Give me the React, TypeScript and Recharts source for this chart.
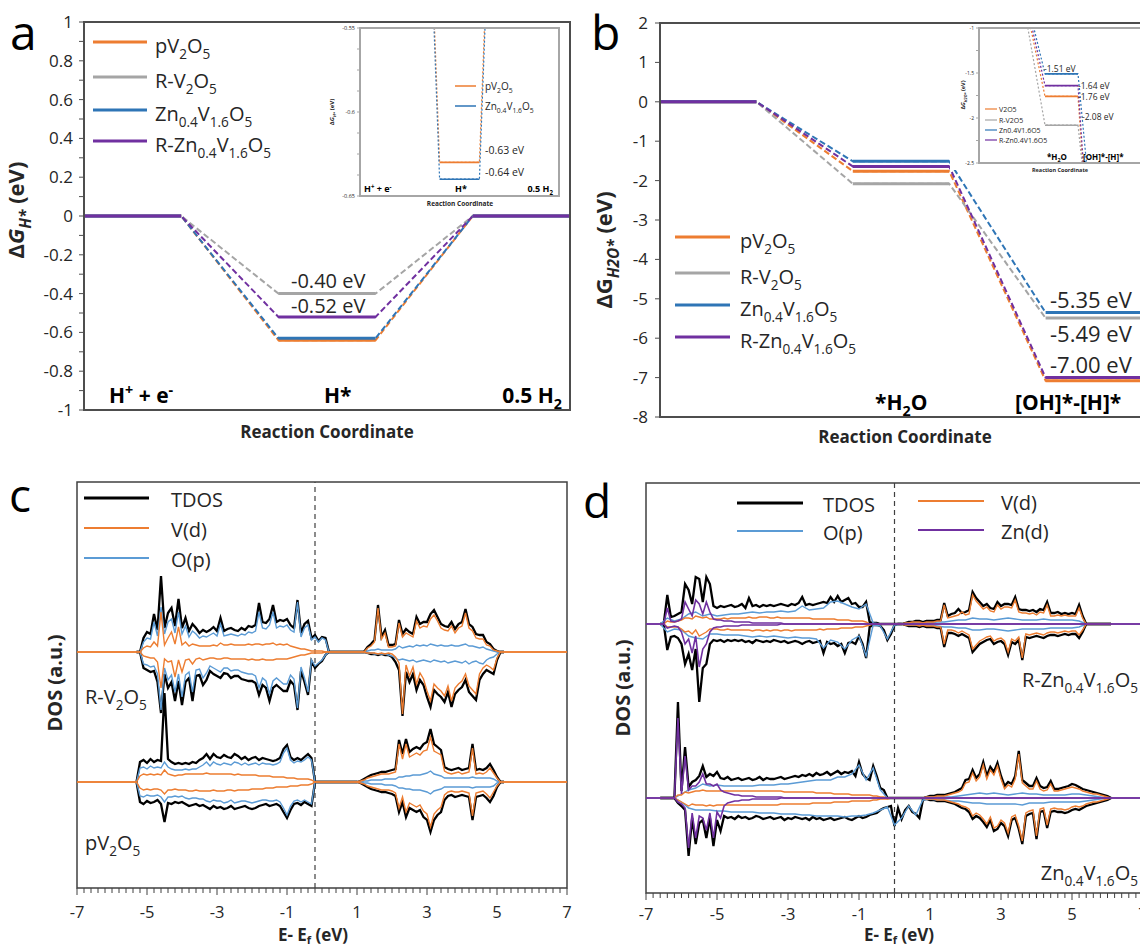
import React from 'react';
import { LineChart, Line, XAxis, YAxis, ReferenceArea, ReferenceLine } from 'recharts';

const FONT = '"Open Sans", "Noto Sans", Arial, sans-serif';
const INK = '#262626';
const FRAME = '#4D4D4D';
const ORANGE = '#ED7D31';
const GRAY = '#A5A5A5';
const BLUE = '#2E75B6';
const PURPLE = '#7030A0';
const LIGHT_BLUE = '#5B9BD5';

// ---------- panel a: hydrogen adsorption free energy ----------
const materials = ['pV2O5', 'R-V2O5', 'Zn0.4V1.6O5', 'R-Zn0.4V1.6O5'];
const materialColors = [ORANGE, GRAY, BLUE, PURPLE];
const stagesH = ['H+ + e-', 'H*', '0.5 H2'];
const dGH_pV2O5 = [0, -0.64, 0];
const dGH_RV2O5 = [0, -0.4, 0];
const dGH_Zn = [0, -0.63, 0];
const dGH_RZn = [0, -0.52, 0];
// values as printed in the zoomed inset
const insetH_pV2O5 = [0, -0.63, 0];
const insetH_Zn = [0, -0.64, 0];

// ---------- panel b: water dissociation free energy ----------
const stagesW = ['', '*H2O', '[OH]*-[H]*'];
const dGW_pV2O5 = [0, -1.76, -7.08];
const dGW_RV2O5 = [0, -2.08, -5.49];
const dGW_Zn = [0, -1.51, -5.35];
const dGW_RZn = [0, -1.64, -7.0];
const insetWNames = ['V2O5', 'R-V2O5', 'Zn0.4V1.6O5', 'R-Zn0.4V1.6O5'];

// ---------- panels c, d: density of states ----------
const energyLabels = [-7, -5, -3, -1, 1, 3, 5, 7];
const dosNames = ['TDOS', 'V(d)', 'O(p)', 'Zn(d)'];

// panel c: 0.1 eV samples starting at -5.3 eV
const cStart = -5.3;
const rvTdosUp = [
  0, 0, 14, 20, 18, 38, 22, 76, 24, 39,
  44, 26, 53, 24, 34, 21, 28, 24, 19, 22,
  20, 22, 25, 21, 34, 21, 23, 24, 22, 21,
  24, 22, 26, 25, 27, 49, 30, 29, 33, 47,
  30, 32, 31, 33, 27, 24, 52, 19, 28, 31,
  14, 17, 11, 15, 14, 0, 0, 0, 0, 0,
  0, 0, 0, 0, 0, 0, 5, 8, 12, 47,
  15, 22, 7, 7, 8, 32, 18, 23, 20, 18,
  35, 28, 30, 30, 38, 42, 35, 28, 26, 25,
  30, 23, 28, 30, 43, 28, 25, 18, 17, 17,
  10, 8, 3, 1, 0, 0,
];
const rvTdosDn = [
  0, 0, -16, -18, -20, -19, -30, -61, -22, -36,
  -30, -49, -29, -53, -30, -26, -49, -24, -23, -33,
  -28, -19, -22, -24, -26, -21, -22, -26, -24, -24,
  -27, -28, -29, -29, -31, -43, -33, -36, -49, -36,
  -33, -36, -39, -39, -29, -33, -58, -19, -30, -43,
  -9, -16, -12, -9, -3, 0, 0, 0, 0, 0,
  0, 0, 0, 0, 0, 0, -1, -2, -2, -3,
  -2, -3, -3, -5, -10, -18, -64, -20, -30, -22,
  -38, -28, -33, -45, -55, -38, -42, -45, -50, -40,
  -55, -42, -38, -35, -28, -40, -44, -48, -28, -22,
  -18, -20, -22, -8, 0, 0,
];
const rvOpUp = [
  0, 0, 10, 14, 13, 30, 16, 45, 18, 30,
  33, 19, 40, 18, 26, 15, 21, 18, 14, 16,
  15, 17, 19, 16, 28, 16, 17, 18, 17, 16,
  18, 17, 20, 19, 21, 40, 24, 23, 27, 40,
  24, 26, 25, 27, 22, 20, 50, 15, 24, 27,
  12, 15, 10, 14, 12, 0, 0, 0, 0, 0,
  0, 0, 0, 0, 0, 0, 1, 2, 2, 3,
  2, 2, 2, 2, 3, 6, 4, 5, 6, 5,
  7, 6, 7, 6, 8, 7, 6, 7, 6, 6,
  7, 6, 6, 7, 8, 6, 6, 5, 4, 5,
  3, 2, 1, 0, 0, 0,
];
const rvOpDn = [
  0, 0, -12, -13, -15, -14, -22, -58, -16, -28,
  -23, -40, -22, -45, -23, -20, -40, -18, -17, -26,
  -21, -14, -16, -18, -20, -16, -16, -19, -18, -18,
  -20, -21, -22, -22, -24, -36, -26, -29, -42, -29,
  -26, -29, -32, -32, -23, -27, -56, -15, -26, -40,
  -8, -14, -11, -8, -3, 0, 0, 0, 0, 0,
  0, 0, 0, 0, 0, 0, -1, -1, -2, -2,
  -2, -2, -3, -4, -6, -8, -7, -8, -9, -8,
  -10, -9, -8, -9, -10, -8, -9, -10, -9, -11,
  -10, -9, -10, -11, -9, -12, -10, -9, -11, -12,
  -8, -6, -5, -2, 0, 0,
];
const rvVdUp = [
  0, 0, 4, 6, 5, 10, 6, 40, 7, 14,
  20, 8, 25, 7, 10, 6, 8, 7, 6, 6,
  6, 6, 7, 6, 9, 7, 7, 8, 7, 7,
  7, 7, 8, 7, 8, 8, 7, 8, 8, 9,
  7, 8, 7, 8, 6, 5, 4, 3, 3, 2,
  1, 1, 1, 1, 0, 0, 0, 0, 0, 0,
  0, 0, 0, 0, 0, 0, 4, 6, 10, 44,
  13, 19, 5, 5, 6, 29, 15, 19, 17, 15,
  31, 24, 26, 25, 33, 37, 31, 24, 22, 21,
  26, 19, 24, 26, 39, 24, 21, 14, 13, 13,
  7, 6, 2, 1, 0, 0,
];
const rvVdDn = [
  0, 0, -4, -5, -6, -6, -10, -36, -7, -10,
  -9, -25, -8, -20, -8, -7, -12, -7, -6, -8,
  -7, -6, -6, -7, -7, -6, -6, -7, -7, -7,
  -7, -7, -8, -7, -8, -8, -7, -8, -8, -8,
  -7, -7, -7, -7, -6, -5, -4, -3, -3, -2,
  -1, -1, -1, -1, 0, 0, 0, 0, 0, 0,
  0, 0, 0, 0, 0, 0, -1, -1, -1, -2,
  -1, -2, -1, -2, -5, -11, -62, -13, -24, -15,
  -32, -21, -27, -39, -49, -32, -36, -39, -44, -34,
  -49, -36, -32, -29, -22, -34, -38, -42, -22, -16,
  -13, -15, -18, -6, 0, 0,
];
const pvTdosUp = [
  0, 20, 22, 19, 23, 20, 22, 21, 89, 23,
  20, 18, 19, 18, 19, 18, 20, 19, 22, 24,
  28, 23, 28, 25, 24, 27, 25, 24, 28, 26,
  23, 25, 22, 24, 25, 22, 24, 23, 22, 21,
  22, 24, 33, 37, 25, 22, 24, 22, 25, 28,
  24, 0, 0, 0, 0, 0, 0, 0, 0, 0,
  0, 0, 0, 0, 1, 3, 5, 7, 8, 9,
  10, 10, 11, 12, 13, 42, 28, 43, 30, 33,
  35, 33, 38, 40, 53, 38, 35, 32, 15, 13,
  12, 13, 14, 12, 13, 14, 38, 12, 13, 12,
  14, 18, 12, 5, 0, 0,
];
const pvTdosDn = [
  0, -20, -22, -19, -21, -20, -18, -22, -40, -21,
  -22, -20, -21, -20, -22, -24, -23, -22, -24, -23,
  -25, -27, -24, -26, -25, -27, -26, -24, -27, -26,
  -25, -24, -26, -27, -26, -24, -23, -22, -24, -23,
  -22, -24, -30, -36, -28, -22, -21, -23, -20, -22,
  -24, 0, 0, 0, 0, 0, 0, 0, 0, 0,
  0, 0, 0, 0, -1, -3, -5, -7, -8, -9,
  -10, -10, -11, -12, -14, -30, -20, -35, -26, -28,
  -30, -28, -35, -38, -50, -38, -33, -30, -18, -14,
  -13, -15, -14, -13, -14, -15, -38, -15, -14, -13,
  -16, -20, -14, -5, 0, 0,
];
const pvOpUp = [
  0, 14, 15, 13, 16, 14, 15, 14, 20, 15,
  13, 12, 12, 12, 13, 12, 13, 13, 15, 17,
  20, 16, 20, 18, 17, 19, 18, 17, 20, 19,
  17, 19, 17, 18, 19, 17, 19, 18, 18, 17,
  18, 20, 29, 34, 22, 19, 21, 20, 22, 25,
  22, 0, 0, 0, 0, 0, 0, 0, 0, 0,
  0, 0, 0, 0, 0, 1, 1, 2, 2, 2,
  2, 3, 3, 3, 3, 5, 5, 6, 6, 7,
  7, 7, 8, 9, 11, 8, 7, 6, 4, 4,
  4, 4, 4, 4, 4, 4, 5, 4, 4, 4,
  4, 4, 3, 1, 0, 0,
];
const pvOpDn = [
  0, -14, -15, -13, -14, -14, -13, -15, -20, -15,
  -15, -14, -15, -14, -16, -17, -16, -16, -17, -17,
  -19, -20, -18, -19, -19, -21, -20, -18, -21, -20,
  -19, -19, -20, -21, -20, -19, -18, -18, -19, -19,
  -18, -20, -26, -33, -24, -19, -18, -20, -18, -20,
  -22, 0, 0, 0, 0, 0, 0, 0, 0, 0,
  0, 0, 0, 0, 0, -1, -1, -2, -2, -2,
  -2, -3, -3, -3, -4, -6, -6, -7, -7, -8,
  -8, -8, -9, -10, -12, -9, -8, -7, -5, -5,
  -5, -5, -5, -5, -5, -5, -6, -5, -5, -5,
  -5, -5, -4, -1, 0, 0,
];
const pvVdUp = [
  0, 6, 8, 7, 8, 7, 8, 7, 12, 8,
  7, 6, 7, 7, 8, 8, 8, 8, 8, 8,
  9, 8, 8, 8, 8, 8, 8, 8, 7, 8,
  7, 7, 7, 7, 7, 6, 6, 6, 6, 5,
  5, 5, 5, 4, 4, 4, 3, 3, 3, 3,
  2, 0, 0, 0, 0, 0, 0, 0, 0, 0,
  0, 0, 0, 0, 1, 2, 4, 5, 6, 7,
  8, 8, 8, 9, 10, 38, 23, 38, 25, 27,
  29, 27, 31, 32, 45, 31, 29, 27, 11, 9,
  8, 9, 10, 8, 9, 10, 34, 8, 9, 8,
  10, 14, 9, 4, 0, 0,
];
const pvVdDn = [
  0, -6, -8, -7, -8, -7, -7, -8, -12, -8,
  -8, -7, -8, -8, -8, -9, -9, -8, -9, -9,
  -9, -9, -8, -9, -9, -9, -8, -8, -9, -8,
  -8, -8, -8, -7, -7, -7, -7, -6, -6, -6,
  -5, -5, -5, -5, -4, -4, -4, -3, -3, -3,
  -2, 0, 0, 0, 0, 0, 0, 0, 0, 0,
  0, 0, 0, 0, -1, -2, -4, -5, -6, -7,
  -8, -8, -8, -9, -11, -26, -15, -30, -21, -23,
  -25, -23, -29, -32, -45, -32, -28, -25, -13, -10,
  -9, -10, -10, -9, -10, -11, -34, -11, -10, -9,
  -12, -16, -10, -4, 0, 0,
];

// panel d: TDOS and V(d) at 0.1 eV from -6.6 eV, O(p) at 0.2 eV, Zn(d) at 0.1 eV up to -3.0 eV
const dStart = -6.6;
const rznTdosUp = [
  0, 0, 29, 7, 8, 10, 12, 40, 34, 20,
  47, 45, 22, 47, 40, 18, 16, 18, 17, 18,
  19, 17, 18, 20, 16, 26, 18, 19, 17, 19,
  18, 19, 18, 19, 20, 19, 18, 20, 19, 21,
  27, 19, 20, 19, 20, 21, 22, 21, 27, 22,
  28, 22, 24, 26, 20, 21, 17, 17, 22, 2,
  1, 1, 0, 0, 0, 0, 0, 0, 0, 1,
  2, 2, 3, 3, 2, 3, 3, 3, 4, 4,
  21, 8, 10, 11, 15, 11, 12, 14, 32, 26,
  22, 18, 20, 16, 15, 22, 18, 20, 20, 19,
  27, 15, 14, 14, 13, 14, 12, 15, 14, 22,
  11, 11, 12, 10, 11, 10, 11, 10, 19, 8,
  0, 0, 0, 0, 0, 0, 0, 0,
];
const rznTdosDn = [
  0, 0, -26, -13, -12, -14, -20, -40, -30, -46,
  -25, -78, -44, -40, -20, -16, -17, -16, -18, -16,
  -17, -16, -17, -16, -18, -17, -19, -16, -17, -18,
  -17, -18, -16, -17, -18, -17, -19, -18, -17, -18,
  -20, -18, -17, -19, -18, -17, -29, -18, -20, -19,
  -22, -20, -29, -19, -18, -20, -12, -20, -34, -3,
  -1, -1, -2, -6, -16, -10, -1, 0, 0, -1,
  -2, -2, -2, -3, -2, -3, -3, -3, -4, -4,
  -23, -9, -9, -10, -12, -10, -12, -14, -28, -24,
  -20, -18, -16, -15, -20, -18, -17, -20, -31, -18,
  -20, -16, -36, -13, -14, -13, -12, -13, -14, -12,
  -11, -11, -12, -11, -10, -11, -10, -10, -14, -8,
  0, 0, 0, 0, 0, 0, 0, 0,
];
const rznVdUp = [
  0, 0, 3, 2, 2, 3, 4, 6, 6, 5,
  8, 7, 6, 7, 5, 5, 5, 5, 6, 5,
  6, 6, 6, 6, 6, 7, 6, 6, 7, 7,
  7, 6, 6, 7, 6, 6, 6, 6, 6, 6,
  6, 6, 6, 5, 5, 5, 5, 5, 5, 5,
  4, 4, 4, 4, 3, 3, 3, 3, 2, 0,
  0, 0, 0, 0, 0, 0, 0, 0, 0, 1,
  1, 2, 2, 2, 1, 2, 2, 2, 3, 3,
  19, 6, 7, 8, 9, 12, 9, 10, 29, 23,
  19, 15, 17, 13, 12, 19, 15, 17, 17, 16,
  24, 12, 11, 11, 10, 11, 9, 12, 11, 19,
  8, 8, 9, 8, 9, 8, 8, 8, 16, 6,
  0, 0, 0, 0, 0, 0, 0, 0,
];
const rznVdDn = [
  0, 0, -3, -3, -3, -3, -5, -8, -7, -10,
  -6, -12, -10, -8, -5, -5, -5, -6, -6, -5,
  -6, -6, -6, -6, -6, -6, -7, -6, -6, -7,
  -6, -7, -6, -6, -7, -6, -6, -7, -6, -6,
  -6, -6, -6, -6, -6, -5, -6, -5, -5, -5,
  -5, -4, -4, -4, -4, -3, -3, -3, -2, -1,
  0, 0, 0, 0, 0, 0, 0, 0, 0, -1,
  -1, -1, -1, -2, -1, -2, -2, -2, -3, -3,
  -20, -6, -6, -7, -9, -7, -9, -11, -25, -21,
  -17, -15, -13, -12, -17, -15, -14, -17, -28, -15,
  -17, -13, -34, -10, -11, -10, -9, -10, -11, -9,
  -8, -8, -9, -8, -7, -8, -7, -7, -11, -6,
  0, 0, 0, 0, 0, 0, 0, 0,
];
const rznOpUp = [
  0, 6, 3, 5, 10, 12, 8, 10, 8, 9,
  10, 10, 11, 12, 11, 12, 12, 13, 12, 13,
  18, 14, 15, 16, 22, 23, 20, 17, 15, 20,
  1, 0, 0, 0, 0, 1, 1, 1, 1, 2,
  2, 3, 4, 4, 6, 5, 5, 4, 5, 6,
  5, 4, 4, 4, 5, 4, 4, 4, 4, 3,
  0, 0, 0, 0,
];
const rznOpDn = [
  0, -8, -5, -6, -12, -14, -15, -10, -10, -11,
  -11, -11, -12, -13, -12, -13, -12, -13, -14, -13,
  -14, -14, -15, -24, -16, -18, -25, -16, -12, -32,
  -1, -2, -15, -1, 0, -1, -1, -1, -1, -2,
  -3, -3, -4, -4, -6, -6, -5, -5, -6, -7,
  -6, -5, -5, -5, -5, -4, -4, -4, -4, -3,
  0, 0, 0, 0,
];
const rznZnUp = [
  0, 0, 16, 3, 2, 3, 5, 22, 15, 8,
  24, 20, 10, 22, 12, 5, 4, 4, 3, 3,
  3, 2, 2, 2, 2, 2, 1, 1, 1, 1,
  1, 1, 1, 1, 1, 0, 0,
];
const rznZnDn = [
  0, 0, -4, -3, -2, -3, -8, -20, -15, -29,
  -12, -43, -25, -20, -8, -4, -3, -3, -2, -2,
  -2, -2, -2, -1, -1, -1, -1, -1, -1, -1,
  -1, -1, -1, -1, 0, 0, 0,
];
const znTdosUp = [
  0, 0, 0, 0, 0, 96, 7, 51, 11, 16,
  18, 22, 32, 21, 24, 22, 26, 20, 19, 21,
  18, 19, 20, 18, 19, 20, 18, 19, 21, 18,
  20, 19, 19, 20, 21, 19, 20, 21, 22, 21,
  23, 22, 24, 22, 25, 23, 24, 26, 23, 25,
  27, 24, 26, 25, 27, 22, 36, 24, 20, 18,
  32, 22, 10, 8, 0, 0, 0, 0, 0, 0,
  0, 0, 0, 0, 0, 1, 2, 2, 3, 3,
  3, 4, 5, 6, 8, 10, 18, 19, 28, 20,
  24, 36, 22, 31, 26, 35, 22, 12, 16, 14,
  22, 47, 18, 15, 12, 12, 20, 12, 10, 11,
  17, 9, 9, 10, 11, 12, 14, 13, 11, 9,
  8, 7, 6, 5, 4, 3, 2, 0,
];
const znTdosDn = [
  0, 0, 0, 0, 0, -5, -8, -12, -58, -20,
  -46, -25, -22, -40, -20, -48, -22, -33, -18, -20,
  -19, -21, -18, -20, -19, -21, -20, -18, -19, -21,
  -20, -19, -21, -20, -19, -22, -20, -21, -19, -20,
  -21, -20, -22, -19, -21, -20, -22, -21, -20, -22,
  -21, -20, -19, -21, -22, -20, -18, -20, -19, -17,
  -16, -15, -12, -10, -9, -8, -28, -10, -21, -12,
  -8, -14, -16, -20, -2, -1, -2, -2, -3, -3,
  -3, -4, -5, -6, -8, -10, -11, -14, -21, -18,
  -20, -24, -29, -22, -33, -31, -25, -28, -38, -22,
  -20, -31, -46, -18, -16, -15, -41, -14, -13, -30,
  -14, -13, -14, -14, -15, -14, -12, -11, -12, -10,
  -8, -7, -6, -5, -4, -3, -2, 0,
];
const znVdUp = [
  0, 0, 0, 0, 0, 3, 3, 6, 5, 6,
  7, 7, 8, 7, 7, 7, 7, 7, 7, 7,
  7, 7, 7, 7, 7, 7, 7, 7, 7, 7,
  7, 7, 7, 7, 7, 6, 6, 6, 6, 6,
  6, 6, 6, 6, 5, 5, 5, 5, 5, 4,
  4, 4, 4, 4, 3, 3, 3, 3, 3, 3,
  2, 2, 1, 1, 0, 0, 0, 0, 0, 0,
  0, 0, 0, 0, 0, 1, 1, 1, 2, 2,
  2, 3, 4, 5, 6, 8, 15, 16, 25, 17,
  21, 33, 19, 28, 23, 32, 19, 9, 13, 11,
  19, 44, 15, 12, 9, 9, 17, 9, 7, 8,
  14, 7, 7, 8, 9, 10, 11, 10, 9, 7,
  6, 5, 4, 4, 3, 2, 1, 0,
];
const znVdDn = [
  0, 0, 0, 0, 0, -2, -4, -6, -8, -6,
  -7, -7, -7, -8, -7, -8, -7, -7, -7, -7,
  -7, -7, -7, -7, -7, -7, -7, -7, -7, -7,
  -7, -7, -7, -7, -6, -6, -6, -6, -6, -6,
  -6, -6, -6, -5, -5, -5, -5, -5, -5, -4,
  -4, -4, -4, -4, -3, -3, -3, -3, -3, -3,
  -2, -2, -1, -1, -1, 0, 0, 0, 0, 0,
  0, 0, 0, 0, 0, -1, -1, -1, -2, -2,
  -2, -3, -4, -5, -6, -8, -9, -11, -18, -15,
  -17, -21, -26, -19, -30, -28, -22, -25, -35, -19,
  -17, -28, -43, -15, -13, -12, -38, -11, -10, -27,
  -11, -10, -11, -11, -12, -11, -9, -8, -9, -8,
  -6, -5, -4, -4, -3, -2, -1, 0,
];
const znOpUp = [
  0, 0, 0, 4, 8, 10, 14, 12, 13, 12,
  12, 12, 12, 12, 13, 13, 13, 14, 14, 15,
  16, 17, 18, 18, 18, 21, 21, 24, 33, 18,
  30, 8, 0, 0, 0, 0, 0, 0, 1, 1,
  1, 1, 2, 3, 4, 5, 4, 5, 4, 3,
  4, 5, 4, 4, 3, 3, 3, 3, 4, 4,
  3, 2, 1, 0,
];
const znOpDn = [
  0, 0, 0, -4, -10, -12, -12, -12, -13, -13,
  -14, -14, -14, -14, -15, -15, -15, -16, -16, -16,
  -17, -17, -18, -18, -18, -18, -19, -18, -18, -17,
  -15, -12, -9, -27, -20, -8, -17, -2, -1, -2,
  -2, -3, -3, -4, -5, -5, -6, -6, -6, -6,
  -6, -7, -5, -5, -5, -4, -4, -4, -4, -4,
  -3, -2, -1, 0,
];
const znZnUp = [
  0, 0, 0, 0, 0, 80, 4, 42, 8, 12,
  12, 16, 24, 14, 14, 12, 14, 8, 6, 5,
  4, 3, 3, 2, 2, 2, 2, 1, 1, 1,
  1, 1, 1, 1, 1, 0, 0,
];
const znZnDn = [
  0, 0, 0, 0, 0, -4, -6, -10, -50, -15,
  -40, -18, -20, -32, -15, -40, -14, -20, -8, -5,
  -4, -3, -3, -2, -2, -2, -1, -1, -1, -1,
  -1, -1, -1, -1, 0, 0, 0,
];

// ---------- helpers ----------
type Pt = { x: number; y: number | null };

// flat level for each stage (solid), broken between stages
function levelPath(vals: number[]): Pt[] {
  const out: Pt[] = [];
  vals.forEach((v, k) => {
    out.push({ x: 2 * k, y: v }, { x: 2 * k + 1, y: v });
    if (k < vals.length - 1) out.push({ x: 2 * k + 1.5, y: null });
  });
  return out;
}
// full path, drawn dashed underneath, so only the connectors show
function stepPath(vals: number[]): Pt[] {
  return vals.flatMap((v, k) => [{ x: 2 * k, y: v }, { x: 2 * k + 1, y: v }]);
}

function onGrid(e0: number, step: number, vals: number[], base: number, full = false) {
  const pts = vals.map((v, i) => ({ e: Math.round((e0 + i * step) * 100) / 100, y: base + v }));
  return full ? [{ e: -7, y: base }, ...pts, { e: 7, y: base }] : pts;
}

function splitFormula(text: string) {
  const segs: { t: string; k: 'n' | 'sub' | 'sup' }[] = [];
  let cur = '';
  let curK: 'n' | 'sub' | 'sup' = 'n';
  for (let i = 0; i < text.length; i++) {
    const ch = text[i];
    const prev = text[i - 1] || '';
    const next = text[i + 1];
    let k: 'n' | 'sub' | 'sup' = 'n';
    if (/[0-9.]/.test(ch) && (curK === 'sub' || /[A-Za-z]/.test(prev))) k = 'sub';
    else if (/[+-]/.test(ch) && /[A-Za-z]/.test(prev) && (next === undefined || next === ' ')) k = 'sup';
    if (k !== curK && cur) {
      segs.push({ t: cur, k: curK });
      cur = '';
    }
    curK = k;
    cur += ch;
  }
  if (cur) segs.push({ t: cur, k: curK });
  return segs;
}

function Formula(p: { x: number; y: number; text: string; size: number; anchor?: string; weight?: number; fill?: string }) {
  const segs = splitFormula(p.text);
  let shift = 0;
  return (
    <text x={p.x} y={p.y} fontSize={p.size} textAnchor={p.anchor || 'start'} fontWeight={p.weight || 400}
      fill={p.fill || INK} fontFamily={FONT}>
      {segs.map((s, i) => {
        const target = s.k === 'sub' ? p.size * 0.3 : s.k === 'sup' ? -p.size * 0.38 : 0;
        const dy = target - shift;
        shift = target;
        return (
          <tspan key={i} dy={dy} fontSize={s.k === 'n' ? p.size : p.size * 0.68}>{s.t}</tspan>
        );
      })}
    </text>
  );
}

function DeltaG(p: { cx: number; cy: number; size: number; sub: string; italicG: boolean }) {
  return (
    <text transform={`translate(${p.cx},${p.cy}) rotate(-90)`} textAnchor="middle" fontSize={p.size}
      fontWeight={700} fill={INK} fontFamily={FONT}>
      Δ<tspan fontStyle={p.italicG ? 'italic' : 'normal'}>G</tspan>
      <tspan fontSize={p.size * 0.7} dy={p.size * 0.3} fontStyle="italic">{p.sub}</tspan>
      <tspan dy={-p.size * 0.3}> (eV)</tspan>
    </text>
  );
}

function LevelChart(p: {
  series: { vals: number[]; color: string }[];
  width: number;
  height: number;
  margin: { top: number; right: number; bottom: number; left: number };
  yDomain: [number, number];
  yTicks: number[];
  yAxisWidth: number;
  isLabel: (v: number) => boolean;
  tickFont: number;
  tickGap: number;
  tickLen: number;
  frame: string;
  levelWidth: number;
  dashWidth: number;
  dash: string;
}) {
  const renderTick = (t: any) => {
    const v = t.payload.value;
    return (
      <g>
        <line x1={t.x - p.tickLen} x2={t.x} y1={t.y} y2={t.y} stroke={p.frame} strokeWidth={1} />
        {p.isLabel(v) && (
          <text x={t.x - p.tickGap} y={t.y} dy="0.35em" textAnchor="end" fontSize={p.tickFont} fill={INK} fontFamily={FONT}>
            {String(Math.round(v * 100) / 100)}
          </text>
        )}
      </g>
    );
  };
  return (
    <LineChart width={p.width} height={p.height} margin={p.margin}>
      <XAxis type="number" dataKey="x" domain={[0, 5]} allowDataOverflow height={0} tick={false} tickLine={false}
        axisLine={{ stroke: p.frame, strokeWidth: 1.5 }} />
      <YAxis type="number" domain={p.yDomain} ticks={p.yTicks} interval={0} width={p.yAxisWidth}
        axisLine={{ stroke: p.frame, strokeWidth: 1.5 }} tickLine={false} tickSize={0} tickMargin={0} allowDataOverflow tick={renderTick} />
      {p.series.map((s, i) => (
        <Line key={'dash' + i} data={stepPath(s.vals)} dataKey="y" type="linear" stroke={s.color}
          strokeWidth={p.dashWidth} strokeDasharray={p.dash} dot={false} activeDot={false} isAnimationActive={false} />
      ))}
      {p.series.map((s, i) => (
        <Line key={'lvl' + i} data={levelPath(s.vals)} dataKey="y" type="linear" stroke={s.color}
          strokeWidth={p.levelWidth} dot={false} activeDot={false} isAnimationActive={false} />
      ))}
    </LineChart>
  );
}

const energyTicks = Array.from({ length: 71 }, (_, i) => Math.round((-7 + i * 0.2) * 10) / 10);

const makeEnergyTick = (labelDy: number) => (t: any) => {
  const v = t.payload.value;
  const major = energyLabels.includes(v);
  return (
    <g>
      <line x1={t.x} x2={t.x} y1={t.y} y2={t.y + (major ? 7 : 5)} stroke="#404040" strokeWidth={1} />
      {major && (
        <text x={t.x} y={t.y + labelDy} textAnchor="middle" fontSize={16.5} fill={INK} fontFamily={FONT}>{v}</text>
      )}
    </g>
  );
};

type DosLine = { pts: { e: number; y: number }[]; color: string; w: number };

function DosChart(p: { lines: DosLine[]; width: number; height: number; left: number; top: number; right: number; axisH: number; yMax: number; fermi: number; labelDy: number }) {
  return (
    <LineChart width={p.width} height={p.height} margin={{ top: p.top, right: p.right, bottom: 0, left: p.left }}>
      <XAxis type="number" dataKey="e" domain={[-7, 7]} ticks={energyTicks} interval={0} height={p.axisH}
        tick={makeEnergyTick(p.labelDy)} tickLine={false} axisLine={false} tickSize={0} tickMargin={0} allowDataOverflow />
      <YAxis type="number" domain={[0, p.yMax]} hide allowDataOverflow />
      <ReferenceArea x1={-7} x2={7} y1={0} y2={p.yMax} fill="none" fillOpacity={0} stroke="#404040" strokeWidth={1.5} ifOverflow="visible" />
      <ReferenceLine x={p.fermi} stroke="#404040" strokeWidth={1.2} strokeDasharray="5 4" />
      {p.lines.map((l, i) => (
        <Line key={i} data={l.pts} dataKey="y" type="linear" stroke={l.color} strokeWidth={l.w}
          dot={false} activeDot={false} isAnimationActive={false} />
      ))}
    </LineChart>
  );
}

// vertical offsets (chart units = px) of each spectrum's zero line
const BASE_RV = 236;
const BASE_PV = 106;
const BASE_RZN = 269;
const BASE_ZN = 95;

const TD = { color: '#000000', w: 2.3 };
const OP = { color: LIGHT_BLUE, w: 1.4 };
const VD = { color: ORANGE, w: 1.4 };
const ZN = { color: PURPLE, w: 1.6 };

const cLines: DosLine[] = [
  { pts: onGrid(cStart, 0.1, rvTdosUp, BASE_RV), ...TD },
  { pts: onGrid(cStart, 0.1, rvTdosDn, BASE_RV), ...TD },
  { pts: onGrid(cStart, 0.1, pvTdosUp, BASE_PV), ...TD },
  { pts: onGrid(cStart, 0.1, pvTdosDn, BASE_PV), ...TD },
  { pts: onGrid(cStart, 0.1, rvOpUp, BASE_RV), ...OP },
  { pts: onGrid(cStart, 0.1, rvOpDn, BASE_RV), ...OP },
  { pts: onGrid(cStart, 0.1, pvOpUp, BASE_PV), ...OP },
  { pts: onGrid(cStart, 0.1, pvOpDn, BASE_PV), ...OP },
  { pts: onGrid(cStart, 0.1, rvVdUp, BASE_RV, true), ...VD },
  { pts: onGrid(cStart, 0.1, rvVdDn, BASE_RV, true), ...VD },
  { pts: onGrid(cStart, 0.1, pvVdUp, BASE_PV, true), ...VD },
  { pts: onGrid(cStart, 0.1, pvVdDn, BASE_PV, true), ...VD },
];

const dLines: DosLine[] = [
  { pts: onGrid(dStart, 0.1, rznTdosUp, BASE_RZN), ...TD },
  { pts: onGrid(dStart, 0.1, rznTdosDn, BASE_RZN), ...TD },
  { pts: onGrid(dStart, 0.1, znTdosUp, BASE_ZN), ...TD },
  { pts: onGrid(dStart, 0.1, znTdosDn, BASE_ZN), ...TD },
  { pts: onGrid(dStart, 0.2, rznOpUp, BASE_RZN), ...OP },
  { pts: onGrid(dStart, 0.2, rznOpDn, BASE_RZN), ...OP },
  { pts: onGrid(dStart, 0.2, znOpUp, BASE_ZN), ...OP },
  { pts: onGrid(dStart, 0.2, znOpDn, BASE_ZN), ...OP },
  { pts: onGrid(dStart, 0.1, rznVdUp, BASE_RZN), ...VD },
  { pts: onGrid(dStart, 0.1, rznVdDn, BASE_RZN), ...VD },
  { pts: onGrid(dStart, 0.1, znVdUp, BASE_ZN), ...VD },
  { pts: onGrid(dStart, 0.1, znVdDn, BASE_ZN), ...VD },
  { pts: onGrid(dStart, 0.1, rznZnUp, BASE_RZN, true), ...ZN },
  { pts: onGrid(dStart, 0.1, rznZnDn, BASE_RZN, true), ...ZN },
  { pts: onGrid(dStart, 0.1, znZnUp, BASE_ZN, true), ...ZN },
  { pts: onGrid(dStart, 0.1, znZnDn, BASE_ZN, true), ...ZN },
];

const seriesA = [dGH_pV2O5, dGH_RV2O5, dGH_Zn, dGH_RZn].map((vals, i) => ({ vals, color: materialColors[i] }));
const seriesB = [dGW_pV2O5, dGW_RV2O5, dGW_Zn, dGW_RZn].map((vals, i) => ({ vals, color: materialColors[i] }));
const seriesInsetA = [
  { vals: insetH_pV2O5, color: ORANGE },
  { vals: insetH_Zn, color: BLUE },
];

const ticksA = Array.from({ length: 21 }, (_, i) => Math.round((-1 + i * 0.1) * 10) / 10);
const ticksB = Array.from({ length: 11 }, (_, i) => -8 + i);
const ticksInsetA = Array.from({ length: 9 }, (_, i) => Math.round((-0.65 + i * 0.0125) * 10000) / 10000);
const ticksInsetB = Array.from({ length: 7 }, (_, i) => -2.5 + i * 0.25);

const ev = (v: number) => `${v.toFixed(2)} eV`;

const legA_Y = [42, 77, 110, 141];
const legB_Y = [237, 273, 305, 337];
const legInB_Y = [109, 120, 130, 140];

// plot boxes (layout), used for the frames drawn around each plot
const FRAMES = [
  { x: 84, y: 22, w: 486, h: 388, c: FRAME },
  { x: 660, y: 23, w: 482, h: 394, c: FRAME },
  { x: 360, y: 28, w: 199, h: 168, c: '#A6A6A6' },
  { x: 979, y: 28, w: 165, h: 135, c: '#A6A6A6' },
];

export default function App() {
  return (
    <div style={{ position: 'fixed', left: 0, top: 0, width: 1140, height: 946, overflow: 'hidden', background: '#fff', fontFamily: FONT }}>
      {/* a */}
      <div style={{ position: 'absolute', left: 0, top: 0 }}>
        <LevelChart series={seriesA} width={575} height={440} margin={{ top: 22, right: 5, bottom: 30, left: 0 }}
          yDomain={[-1, 1]} yTicks={ticksA} yAxisWidth={84} isLabel={(v) => Math.round(v * 10) % 2 === 0}
          tickFont={17} tickGap={11} tickLen={5} frame={FRAME} levelWidth={3} dashWidth={2} dash="6 3" />
      </div>
      {/* b */}
      <div style={{ position: 'absolute', left: 575, top: 0 }}>
        <LevelChart series={seriesB} width={575} height={440} margin={{ top: 23, right: 8, bottom: 23, left: 0 }}
          yDomain={[-8, 2]} yTicks={ticksB} yAxisWidth={85} isLabel={() => true}
          tickFont={17} tickGap={12} tickLen={5} frame={FRAME} levelWidth={3} dashWidth={2} dash="6 3" />
      </div>
      {/* inset of a */}
      <div style={{ position: 'absolute', left: 330, top: 20, background: '#fff' }}>
        <LevelChart series={seriesInsetA} width={235} height={190} margin={{ top: 8, right: 6, bottom: 14, left: 0 }}
          yDomain={[-0.65, -0.55]} yTicks={ticksInsetA} yAxisWidth={30}
          isLabel={(v) => Math.abs(Math.round(v * 20) - v * 20) < 1e-6}
          tickFont={5.5} tickGap={5} tickLen={3} frame="#A6A6A6" levelWidth={1.6} dashWidth={1.2} dash="2 2" />
      </div>
      {/* inset of b */}
      <div style={{ position: 'absolute', left: 950, top: 20, background: '#fff' }}>
        <LevelChart series={seriesB} width={200} height={150} margin={{ top: 8, right: 6, bottom: 7, left: 0 }}
          yDomain={[-2.5, -1]} yTicks={ticksInsetB} yAxisWidth={29}
          isLabel={(v) => Math.abs(Math.round(v * 2) - v * 2) < 1e-6}
          tickFont={5} tickGap={5} tickLen={3} frame="#A6A6A6" levelWidth={1.6} dashWidth={1.2} dash="2 2" />
      </div>
      {/* c */}
      <div style={{ position: 'absolute', left: 0, top: 470 }}>
        <DosChart lines={cLines} width={575} height={476} left={77} top={12} right={8} axisH={58} yMax={406} fermi={-0.2} labelDy={30} />
      </div>
      {/* d */}
      <div style={{ position: 'absolute', left: 575, top: 470 }}>
        <DosChart lines={dLines} width={576} height={476} left={71} top={13} right={8} axisH={53} yMax={410} fermi={0} labelDy={27} />
      </div>

      <svg width={1140} height={946} viewBox="0 0 1140 946" style={{ position: 'absolute', left: 0, top: 0, pointerEvents: 'none', zIndex: 5 }} fontFamily={FONT}>
        {FRAMES.map((f, i) => (
          <path key={'fr' + i} d={`M${f.x},${f.y} H${f.x + f.w} V${f.y + f.h} H${f.x} Z`} fill="none" stroke={f.c} strokeWidth={2} />
        ))}

        {/* panel letters */}
        <text x={10} y={50} fontSize={48} fill="#000">a</text>
        <text x={591} y={50} fontSize={48} fill="#000">b</text>
        <text x={9} y={512} fontSize={46} fill="#000">c</text>
        <text x={583} y={518} fontSize={46} fill="#000">d</text>

        {/* ---- a ---- */}
        <DeltaG cx={24} cy={210} size={22} sub="H*" italicG />
        <text x={327} y={438} textAnchor="middle" fontSize={17} fontWeight={700} fill={INK}>Reaction Coordinate</text>
        {materials.map((m, i) => (
          <g key={'la' + i}>
            <line x1={93} x2={147} y1={legA_Y[i]} y2={legA_Y[i]} stroke={materialColors[i]} strokeWidth={3} />
            <Formula x={155} y={legA_Y[i] + 11} text={m} size={20} />
          </g>
        ))}
        <Formula x={291} y={288} text={ev(dGH_RV2O5[1])} size={20} />
        <Formula x={291} y={313} text={ev(dGH_RZn[1])} size={20} />
        <Formula x={109} y={403} text={stagesH[0]} size={21} weight={700} fill="#000" />
        <Formula x={324} y={403} text={stagesH[1]} size={21} weight={700} fill="#000" />
        <Formula x={562} y={403} text={stagesH[2]} size={21} weight={700} fill="#000" anchor="end" />

        {/* inset a */}
        <DeltaG cx={334} cy={112} size={6} sub="H*" italicG />
        <text x={460} y={206} textAnchor="middle" fontSize={6.5} fontWeight={700} fill={INK}>Reaction Coordinate</text>
        {seriesInsetA.map((s, i) => (
          <g key={'lia' + i}>
            <line x1={455} x2={476} y1={86 + i * 20} y2={86 + i * 20} stroke={s.color} strokeWidth={1.5} />
            <Formula x={485} y={90 + i * 20} text={materials[i === 0 ? 0 : 2]} size={10} />
          </g>
        ))}
        <Formula x={485} y={154} text={ev(insetH_pV2O5[1])} size={10.5} />
        <Formula x={485} y={176} text={ev(insetH_Zn[1])} size={10.5} />
        <Formula x={364} y={192} text={stagesH[0]} size={9} weight={700} fill="#000" />
        <Formula x={455} y={192} text={stagesH[1]} size={9} weight={700} fill="#000" />
        <Formula x={553} y={192} text={stagesH[2]} size={9} weight={700} fill="#000" anchor="end" />

        {/* ---- b ---- */}
        <DeltaG cx={612} cy={250} size={22} sub="H2O*" italicG={false} />
        <text x={905} y={443} textAnchor="middle" fontSize={17} fontWeight={700} fill={INK}>Reaction Coordinate</text>
        {materials.map((m, i) => (
          <g key={'lb' + i}>
            <line x1={675} x2={730} y1={legB_Y[i]} y2={legB_Y[i]} stroke={materialColors[i]} strokeWidth={3} />
            <Formula x={740} y={legB_Y[i] + 11} text={m} size={20} />
          </g>
        ))}
        <Formula x={1050} y={308} text={ev(dGW_Zn[2])} size={22} />
        <Formula x={1050} y={342} text={ev(dGW_RV2O5[2])} size={22} />
        <Formula x={1050} y={373} text={ev(dGW_RZn[2])} size={22} />
        <Formula x={875} y={410} text={stagesW[1]} size={21} weight={700} fill="#000" />
        <Formula x={1015} y={410} text={stagesW[2]} size={21} weight={700} fill="#000" />

        {/* inset b */}
        <DeltaG cx={965} cy={95} size={5.5} sub="H2O*" italicG />
        <text x={1060} y={172} textAnchor="middle" fontSize={5.5} fontWeight={700} fill={INK}>Reaction Coordinate</text>
        {insetWNames.map((m, i) => (
          <g key={'lib' + i}>
            <line x1={985} x2={997} y1={legInB_Y[i]} y2={legInB_Y[i]} stroke={materialColors[i]} strokeWidth={1.2} />
            <text x={999} y={legInB_Y[i] + 2.5} fontSize={7} fill={INK}>{m}</text>
          </g>
        ))}
        <Formula x={1044} y={72} text={ev(dGW_Zn[1])} size={8.5} />
        <Formula x={1078} y={89} text={ev(dGW_RZn[1])} size={8.5} />
        <Formula x={1078} y={100} text={ev(dGW_pV2O5[1])} size={8.5} />
        <Formula x={1082} y={120} text={ev(dGW_RV2O5[1])} size={8.5} />
        <Formula x={1047} y={160} text={stagesW[1]} size={8} weight={700} fill="#000" />
        <Formula x={1083} y={160} text={stagesW[2]} size={8} weight={700} fill="#000" />

        {/* ---- c ---- */}
        <text transform="translate(62,683) rotate(-90)" textAnchor="middle" fontSize={20} fontWeight={700} fill={INK}>DOS (a.u.)</text>
        <text x={313} y={941} textAnchor="middle" fontSize={17} fontWeight={700} fill={INK}>
          E- E<tspan fontSize={11} dy={3}>f</tspan><tspan dy={-3}> (eV)</tspan>
        </text>
        {[0, 1, 2].map((k) => {
          const y = [498, 528, 558][k];
          const c = [TD.color, VD.color, OP.color][k];
          return (
            <g key={'lc' + k}>
              <line x1={84} x2={149} y1={y} y2={y} stroke={c} strokeWidth={k === 0 ? 3 : 2.2} />
              <text x={171} y={y + 9} fontSize={20} fill={INK}>{dosNames[k]}</text>
            </g>
          );
        })}
        <Formula x={85} y={704} text="R-V2O5" size={20} />
        <Formula x={85} y={850} text={materials[0]} size={20} />

        {/* ---- d ---- */}
        <text transform="translate(630,688) rotate(-90)" textAnchor="middle" fontSize={20} fontWeight={700} fill={INK}>DOS (a.u.)</text>
        <text x={899} y={941} textAnchor="middle" fontSize={17} fontWeight={700} fill={INK}>
          E- E<tspan fontSize={11} dy={3}>f</tspan><tspan dy={-3}> (eV)</tspan>
        </text>
        <line x1={737} x2={803} y1={503} y2={503} stroke={TD.color} strokeWidth={3} />
        <text x={823} y={512} fontSize={20} fill={INK}>{dosNames[0]}</text>
        <line x1={737} x2={803} y1={531} y2={531} stroke={OP.color} strokeWidth={2.2} />
        <text x={823} y={540} fontSize={20} fill={INK}>{dosNames[2]}</text>
        <line x1={918} x2={984} y1={501} y2={501} stroke={VD.color} strokeWidth={2.2} />
        <text x={1001} y={510} fontSize={20} fill={INK}>{dosNames[1]}</text>
        <line x1={918} x2={984} y1={530} y2={530} stroke={ZN.color} strokeWidth={2.2} />
        <text x={1001} y={539} fontSize={20} fill={INK}>{dosNames[3]}</text>
        <Formula x={1138} y={687} text={materials[3]} size={20} anchor="end" />
        <Formula x={1138} y={880} text={materials[2]} size={20} anchor="end" />
      </svg>
    </div>
  );
}
